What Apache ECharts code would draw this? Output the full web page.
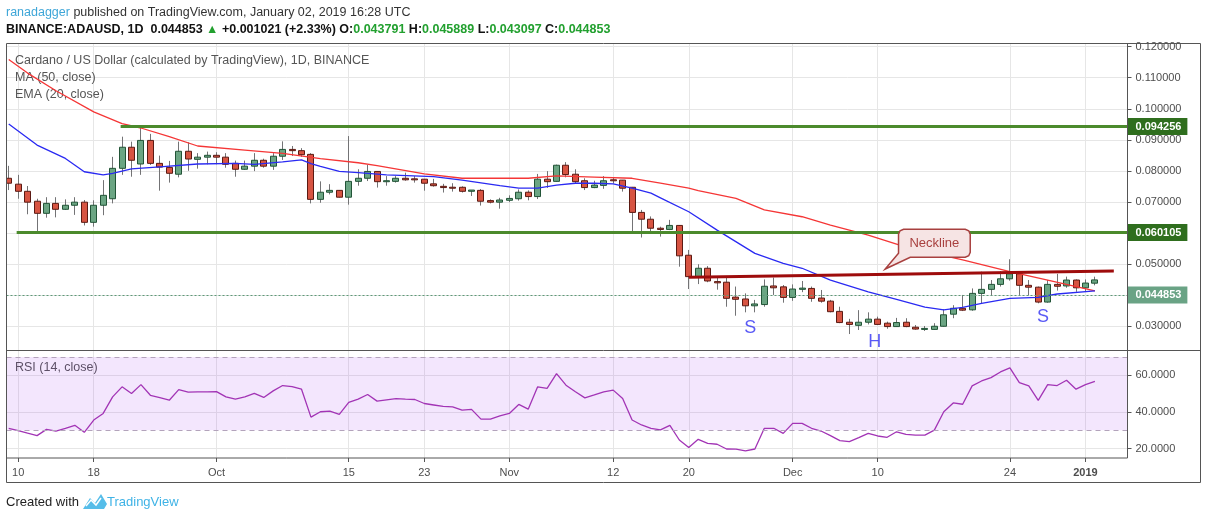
<!DOCTYPE html>
<html><head><meta charset="utf-8">
<script src="https://cdn.jsdelivr.net/npm/echarts@6/dist/echarts.min.js"></script>
<style>html,body{margin:0;padding:0;background:#fff}#c{width:1207px;height:520px}</style>
</head><body><div id="c"></div>
<script>
const dates = ['2018-09-09','2018-09-10','2018-09-11','2018-09-12','2018-09-13','2018-09-14','2018-09-15','2018-09-16','2018-09-17','2018-09-18',
'2018-09-19','2018-09-20','2018-09-21','2018-09-22','2018-09-23','2018-09-24','2018-09-25','2018-09-26','2018-09-27','2018-09-28',
'2018-09-29','2018-09-30','2018-10-01','2018-10-02','2018-10-03','2018-10-04','2018-10-05','2018-10-06','2018-10-07','2018-10-08',
'2018-10-09','2018-10-10','2018-10-11','2018-10-12','2018-10-13','2018-10-14','2018-10-15','2018-10-16','2018-10-17','2018-10-18',
'2018-10-19','2018-10-20','2018-10-21','2018-10-22','2018-10-23','2018-10-24','2018-10-25','2018-10-26','2018-10-27','2018-10-28',
'2018-10-29','2018-10-30','2018-10-31','2018-11-01','2018-11-02','2018-11-03','2018-11-04','2018-11-05','2018-11-06','2018-11-07',
'2018-11-08','2018-11-09','2018-11-10','2018-11-11','2018-11-12','2018-11-13','2018-11-14','2018-11-15','2018-11-16','2018-11-17',
'2018-11-18','2018-11-19','2018-11-20','2018-11-21','2018-11-22','2018-11-23','2018-11-24','2018-11-25','2018-11-26','2018-11-27',
'2018-11-28','2018-11-29','2018-11-30','2018-12-01','2018-12-02','2018-12-03','2018-12-04','2018-12-05','2018-12-06','2018-12-07',
'2018-12-08','2018-12-09','2018-12-10','2018-12-11','2018-12-12','2018-12-13','2018-12-14','2018-12-15','2018-12-16','2018-12-17',
'2018-12-18','2018-12-19','2018-12-20','2018-12-21','2018-12-22','2018-12-23','2018-12-24','2018-12-25','2018-12-26','2018-12-27',
'2018-12-28','2018-12-29','2018-12-30','2018-12-31','2019-01-01','2019-01-02'];

const open = [0.0776,0.0757,0.0734,0.0702,0.0663,0.0695,0.0676,0.0689,0.0699,0.0634,
0.0689,0.0710,0.0808,0.0876,0.0822,0.0898,0.0824,0.0811,0.0789,0.0863,
0.0837,0.0844,0.0850,0.0844,0.0824,0.0805,0.0815,0.0834,0.0815,0.0847,
0.0869,0.0865,0.0853,0.0708,0.0731,0.0737,0.0715,0.0766,0.0776,0.0798,
0.0766,0.0766,0.0776,0.0773,0.0773,0.0758,0.0750,0.0746,0.0747,0.0734,
0.0737,0.0704,0.0699,0.0705,0.0710,0.0731,0.0717,0.0773,0.0766,0.0818,
0.0789,0.0768,0.0746,0.0753,0.0770,0.0770,0.0747,0.0666,0.0644,0.0615,
0.0611,0.0624,0.0528,0.0459,0.0486,0.0443,0.0441,0.0393,0.0387,0.0365,
0.0369,0.0429,0.0426,0.0392,0.0418,0.0421,0.0390,0.0380,0.0347,0.0312,
0.0302,0.0312,0.0322,0.0309,0.0298,0.0312,0.0296,0.0290,0.0289,0.0299,
0.0338,0.0357,0.0352,0.0405,0.0418,0.0434,0.0452,0.0468,0.0431,0.0425,
0.0377,0.0434,0.0429,0.0448,0.0423,0.043791];
const high = [0.0816,0.0787,0.0751,0.0710,0.0715,0.0715,0.0708,0.0715,0.0706,0.0705,
0.0770,0.0845,0.0910,0.0894,0.0942,0.0919,0.0849,0.0832,0.0894,0.0892,
0.0857,0.0862,0.0860,0.0857,0.0833,0.0833,0.0857,0.0839,0.0857,0.0895,
0.0880,0.0873,0.0857,0.0766,0.0757,0.0738,0.0912,0.0805,0.0819,0.0799,
0.0783,0.0783,0.0794,0.0783,0.0774,0.0774,0.0758,0.0760,0.0750,0.0738,
0.0741,0.0708,0.0713,0.0721,0.0740,0.0737,0.0790,0.0799,0.0820,0.0828,
0.0805,0.0776,0.0768,0.0783,0.0780,0.0770,0.0748,0.0674,0.0653,0.0620,
0.0642,0.0625,0.0545,0.0499,0.0493,0.0459,0.0456,0.0427,0.0405,0.0384,
0.0450,0.0456,0.0432,0.0434,0.0445,0.0427,0.0416,0.0384,0.0362,0.0323,
0.0351,0.0344,0.0330,0.0314,0.0326,0.0325,0.0303,0.0300,0.0309,0.0354,
0.0367,0.0400,0.0421,0.0475,0.0448,0.0477,0.0515,0.0470,0.0448,0.0427,
0.0448,0.0468,0.0459,0.0450,0.0450,0.045889];
const low = [0.0738,0.0710,0.0660,0.0604,0.0649,0.0650,0.0674,0.0658,0.0624,0.0620,
0.0657,0.0695,0.0787,0.0781,0.0787,0.0819,0.0736,0.0762,0.0779,0.0800,
0.0807,0.0821,0.0821,0.0810,0.0781,0.0803,0.0799,0.0810,0.0803,0.0835,
0.0848,0.0845,0.0695,0.0697,0.0724,0.0714,0.0691,0.0752,0.0767,0.0746,
0.0752,0.0762,0.0768,0.0762,0.0736,0.0749,0.0730,0.0733,0.0730,0.0719,
0.0688,0.0695,0.0678,0.0699,0.0704,0.0705,0.0709,0.0745,0.0765,0.0779,
0.0760,0.0738,0.0744,0.0742,0.0759,0.0733,0.0599,0.0585,0.0601,0.0588,
0.0609,0.0491,0.0419,0.0435,0.0441,0.0417,0.0362,0.0333,0.0344,0.0344,
0.0362,0.0400,0.0375,0.0381,0.0409,0.0378,0.0375,0.0344,0.0309,0.0274,
0.0287,0.0305,0.0303,0.0291,0.0298,0.0296,0.0288,0.0284,0.0288,0.0298,
0.0325,0.0348,0.0349,0.0373,0.0397,0.0427,0.0446,0.0400,0.0398,0.0373,
0.0375,0.0414,0.0423,0.0410,0.0410,0.043097];
const close = [0.0760,0.0734,0.0699,0.0663,0.0695,0.0676,0.0689,0.0699,0.0634,0.0689,
0.0721,0.0808,0.0876,0.0834,0.0898,0.0824,0.0812,0.0792,0.0863,0.0838,
0.0844,0.0850,0.0844,0.0821,0.0805,0.0815,0.0834,0.0815,0.0847,0.0869,
0.0865,0.0852,0.0708,0.0731,0.0737,0.0715,0.0766,0.0776,0.0798,0.0765,
0.0767,0.0776,0.0771,0.0772,0.0760,0.0752,0.0746,0.0745,0.0734,0.0738,
0.0702,0.0699,0.0706,0.0711,0.0731,0.0717,0.0773,0.0765,0.0818,0.0788,
0.0765,0.0746,0.0754,0.0768,0.0769,0.0744,0.0666,0.0644,0.0615,0.0611,
0.0624,0.0526,0.0459,0.0486,0.0445,0.0439,0.0389,0.0386,0.0365,0.0371,
0.0428,0.0423,0.0392,0.0419,0.0422,0.0389,0.0380,0.0346,0.0311,0.0305,
0.0312,0.0322,0.0305,0.0298,0.0311,0.0298,0.0290,0.0291,0.0299,0.0336,
0.0357,0.0351,0.0405,0.0418,0.0434,0.0452,0.0468,0.0431,0.0425,0.0377,
0.0434,0.0428,0.0448,0.0423,0.043832,0.044853];

// MA(50) and EMA(20) at the listed day indices
const maDay = [0,2,5,9,12,14,17,20,25,29,33,37,39,44,48,52,55,58,62,66,69,72,73,77,80,84,87,91,95,101,106,110,115];
const maVal = [0.1159,0.1115,0.1058,0.0990,0.0952,0.0938,0.0910,0.0880,0.0867,0.0856,0.0839,0.0826,0.0817,0.0790,0.0776,0.0776,0.0776,0.0784,0.0780,0.0776,0.0760,0.0744,0.0736,0.0711,0.0674,0.0652,0.0625,0.0593,0.0554,0.0513,0.0475,0.0448,0.0413];
const emaDay = [0,3,6,8,10,11,13,16,20,24,26,29,31,32,33,35,37,40,45,48,52,54,56,58,60,62,64,66,68,69,72,75,79,82,84,87,91,94,97,99,101,103,106,109,111,115];
const emaVal = [0.0951,0.0883,0.0840,0.0797,0.0787,0.0792,0.0806,0.0813,0.0822,0.0824,0.0821,0.0829,0.0835,0.0823,0.0814,0.0798,0.0794,0.0787,0.0781,0.0770,0.0752,0.0744,0.0744,0.0754,0.0760,0.0760,0.0758,0.0744,0.0728,0.0713,0.0668,0.0609,0.0534,0.0502,0.0486,0.0448,0.0410,0.0386,0.0361,0.0352,0.0360,0.0373,0.0389,0.0392,0.0403,0.0413];

const rsi = [31.1,29.8,28.4,27.1,30.5,29.6,31.0,32.7,28.9,35.6,
39.2,48.2,53.7,50.1,54.9,49.1,47.8,46.4,52.2,50.8,
50.9,51.0,51.1,48.2,47.0,48.2,50.1,47.9,51.5,54.4,
53.8,52.4,37.2,40.1,40.5,38.7,45.2,47.0,49.5,45.9,
46.6,47.3,47.0,46.8,44.6,43.8,43.0,42.8,41.0,41.4,
36.1,36.1,37.9,39.2,44.1,41.5,53.7,52.8,60.9,54.6,
51.0,47.7,49.3,51.0,51.9,47.3,35.6,32.9,31.1,30.2,
32.7,24.7,20.6,25.1,22.9,22.4,19.8,19.7,18.8,19.8,
31.1,31.1,28.3,33.8,33.8,31.1,29.6,27.1,24.4,23.8,
26.0,28.3,26.9,26.2,29.2,27.8,27.4,27.4,30.1,40.1,
44.9,44.2,54.2,56.9,58.7,61.8,64.0,56.0,54.2,46.3,
54.9,54.4,57.3,52.4,54.9,56.7];

const tickDates = ['2018-09-10','2018-09-18','2018-10-01','2018-10-15','2018-10-23','2018-11-01','2018-11-12','2018-11-20','2018-12-01','2018-12-10','2018-12-24','2019-01-01'];
const tickLabels = ['10','18','Oct','15','23','Nov','12','20','Dec','10','24','2019'];
const priceTicks = [0.03,0.04,0.05,0.06,0.07,0.08,0.09,0.10,0.11,0.12];
const rsiTicks = [20,40,60];

const levelTop = 0.094256, levelMid = 0.060105, lastPrice = 0.044853;
const necklineStart = ['2018-11-20', 0.0457], necklineEnd = [117, 0.0477];
const hsLabels = [{name:'S', day:78.5, price:0.02935},{name:'H', day:91.7, price:0.02483},{name:'S', day:109.5, price:0.03289}];
const calloutTip = [92.8, 0.04836];

const tickIdx = tickDates.map(d => dates.indexOf(d));
const X_MIN = -0.235, X_MAX = 118.45;
const FONT = 'Liberation Sans';

const candleData = dates.map((d, i) => [i, open[i], close[i], low[i], high[i]]);
const maData = maDay.map((d, k) => [d, maVal[k]]);
const emaData = emaDay.map((d, k) => [d, emaVal[k]]);
const rsiData = rsi.map((v, i) => [i, v]);

function renderCandle(params, api) {
  const i = api.value(0), o = api.value(1), c = api.value(2), l = api.value(3), h = api.value(4);
  const po = api.coord([i, o]), pc = api.coord([i, c]), pl = api.coord([i, l]), ph = api.coord([i, h]);
  const x = Math.round(po[0] - 0.5) + 0.5;
  const up = c >= o;
  let top = Math.min(po[1], pc[1]), bot = Math.max(po[1], pc[1]);
  if (bot - top < 1) { const m = (top + bot) / 2; top = m - 0.5; bot = m + 0.5; }
  return {type: 'group', children: [
    {type: 'line', shape: {x1: x, y1: ph[1], x2: x, y2: pl[1]}, style: {stroke: '#737375', lineWidth: 1}},
    {type: 'rect', shape: {x: x - 3, y: top, width: 6, height: bot - top},
     style: {fill: up ? '#6ba583' : '#d75442', stroke: up ? '#225437' : '#5b1a13', lineWidth: 1}}
  ]};
}

function renderCallout(params, api) {
  const p = api.coord([api.value(0), api.value(1)]);
  const tx = p[0], ty = p[1];
  const L = tx + 13.3, R = tx + 85, T = ty - 39.7, B = ty - 11.7, r = 5;
  const pts = [[tx, ty], [L, ty - 15.7], [L, T + r], [L + 1.5, T + 1.5], [L + r, T], [R - r, T], [R - 1.5, T + 1.5], [R, T + r],
               [R, B - r], [R - 1.5, B - 1.5], [R - r, B], [tx + 25, B]];
  return {type: 'group', children: [
    {type: 'polygon', shape: {points: pts}, style: {fill: '#f6e4e4', stroke: '#a8403f', lineWidth: 1.5}},
    {type: 'text', style: {text: 'Neckline', x: (L + R) / 2, y: (T + B) / 2, align: 'center', verticalAlign: 'middle',
      fill: '#a8403f', fontSize: 13, fontFamily: FONT}}
  ]};
}

function levelLabel(text, bg) {
  return {show: true, position: 'end', distance: 0, formatter: text, backgroundColor: bg, color: '#fff',
    fontWeight: 'bold', fontSize: 11, fontFamily: FONT, padding: [3, 6, 2, 8], lineHeight: 12};
}

const chart = echarts.init(document.getElementById('c'), null, {renderer: 'canvas'});
chart.setOption({
  animation: false,
  backgroundColor: '#ffffff',
  grid: [
    {left: 6.5, top: 43.5, width: 1121, height: 307, outerBoundsMode: 'none', containLabel: false},
    {left: 6.5, top: 350.5, width: 1121, height: 107.5, outerBoundsMode: 'none', containLabel: false}
  ],
  xAxis: [
    {type: 'value', gridIndex: 0, min: X_MIN, max: X_MAX, axisLine: {show: false, onZero: false},
     axisTick: {show: false, customValues: tickIdx}, axisLabel: {show: false},
     splitLine: {show: true, lineStyle: {color: '#e6e6e6', width: 1}}},
    {type: 'value', gridIndex: 1, min: X_MIN, max: X_MAX, position: 'bottom', axisLine: {show: false, onZero: false},
     axisTick: {show: true, customValues: tickIdx, length: 4, lineStyle: {color: '#555'}},
     axisLabel: {show: true, customValues: tickIdx, margin: 9, color: '#4d4d4d', fontSize: 11, fontFamily: FONT,
       formatter: v => { const t = tickLabels[tickIdx.indexOf(v)]; return t === '2019' ? '{b|2019}' : t; },
       rich: {b: {fontWeight: 'bold', fontSize: 11, fontFamily: FONT, color: '#4d4d4d'}}},
     splitLine: {show: true, lineStyle: {color: '#e6e6e6', width: 1}}}
  ],
  yAxis: [
    {type: 'value', gridIndex: 0, position: 'right', min: 0.022095, max: 0.121031,
     axisLine: {show: false, onZero: false},
     axisTick: {show: true, length: 4, customValues: priceTicks, lineStyle: {color: '#555'}},
     axisLabel: {customValues: priceTicks, formatter: v => v.toFixed(6), color: '#4d4d4d', fontSize: 11, fontFamily: FONT, margin: 8},
     splitLine: {show: true, lineStyle: {color: '#e6e6e6', width: 1}}},
    {type: 'value', gridIndex: 1, position: 'right', min: 14.9, max: 73.5,
     axisLine: {show: false, onZero: false},
     axisTick: {show: true, length: 4, customValues: rsiTicks, lineStyle: {color: '#555'}},
     axisLabel: {customValues: rsiTicks, formatter: v => v.toFixed(4), color: '#4d4d4d', fontSize: 11, fontFamily: FONT, margin: 8},
     splitLine: {show: true, lineStyle: {color: '#e6e6e6', width: 1}}}
  ],
  series: [
    {type: 'custom', name: 'ADAUSD', xAxisIndex: 0, yAxisIndex: 0, data: candleData, renderItem: renderCandle,
     encode: {x: 0, y: [1, 2, 3, 4]}, clip: true, z: 3},
    {type: 'line', name: 'MA (50, close)', xAxisIndex: 0, yAxisIndex: 0, data: maData, symbol: 'none',
     lineStyle: {color: '#f53636', width: 1.3}, z: 4, clip: true,
     markLine: {symbol: ['none', 'none'], silent: true, animation: false,
       data: [
         [{coord: [11.85, levelTop], lineStyle: {color: '#4b8a2c', width: 3, type: 'solid'}, label: levelLabel('0.094256', '#2f6e1e')},
          {coord: [X_MAX, levelTop]}],
         [{coord: [0.84, levelMid], lineStyle: {color: '#4b8a2c', width: 3, type: 'solid'}, label: levelLabel('0.060105', '#2f6e1e')},
          {coord: [X_MAX, levelMid]}]
       ]}},
    {type: 'line', name: 'EMA (20, close)', xAxisIndex: 0, yAxisIndex: 0, data: emaData, symbol: 'none',
     lineStyle: {color: '#2a2af2', width: 1.3}, z: 4, clip: true,
     markLine: {symbol: ['none', 'none'], silent: true, animation: false,
       data: [
         {yAxis: lastPrice, lineStyle: {color: '#5e9a78', width: 1, type: [2, 2]}, label: levelLabel('0.044853', '#6aa385')},
         [{coord: [dates.indexOf(necklineStart[0]), necklineStart[1]], lineStyle: {color: '#9e0c0c', width: 3, type: 'solid'}, label: {show: false}},
          {coord: necklineEnd, label: {show: false}}]
       ]}},
    {type: 'scatter', xAxisIndex: 0, yAxisIndex: 0, symbolSize: 1, itemStyle: {color: 'transparent'}, z: 5,
     data: hsLabels.map(h => ({name: h.name, value: [h.day, h.price]})),
     label: {show: true, position: 'inside', formatter: '{b}', color: '#2f2ff2', fontSize: 18, fontFamily: FONT}},
    {type: 'custom', xAxisIndex: 0, yAxisIndex: 0, data: [calloutTip], renderItem: renderCallout, clip: false, z: 6},
    {type: 'line', name: 'RSI (14, close)', xAxisIndex: 1, yAxisIndex: 1, data: rsiData, symbol: 'none',
     lineStyle: {color: '#a234b5', width: 1.3}, z: 4,
     markArea: {silent: true, itemStyle: {color: 'rgba(155,47,238,0.12)'}, data: [[{yAxis: 70}, {yAxis: 30}]]},
     markLine: {symbol: ['none', 'none'], silent: true, label: {show: false},
       lineStyle: {color: '#b3a3bb', type: [5, 4], width: 1}, data: [{yAxis: 70}, {yAxis: 30}]}}
  ],
  graphic: [
    {type: 'text', x: 6, y: 13, z: 1, style: {text: '{a|ranadagger}{b| published on TradingView.com, January 02, 2019 16:28 UTC}',
      verticalAlign: 'middle', fontSize: 12.5, fontFamily: FONT,
      rich: {a: {fill: '#3ea6d8', fontSize: 12.5, fontFamily: FONT}, b: {fill: '#333', fontSize: 12.5, fontFamily: FONT}}}},
    {type: 'text', x: 6, y: 30, z: 1, style: {
      text: '{b|BINANCE:ADAUSD, 1D  0.044853 }{g|▲}{b| +0.001021 (+2.33%) O:}{g|0.043791}{b| H:}{g|0.045889}{b| L:}{g|0.043097}{b| C:}{g|0.044853}',
      verticalAlign: 'middle', fontSize: 12.5, fontFamily: FONT,
      rich: {b: {fill: '#111', fontSize: 12.5, fontWeight: 'bold', fontFamily: FONT}, g: {fill: '#22a02f', fontSize: 12.5, fontWeight: 'bold', fontFamily: FONT}}}},
    {type: 'text', x: 15, y: 61, z: 1, style: {text: 'Cardano / US Dollar (calculated by TradingView), 1D, BINANCE', verticalAlign: 'middle', fill: '#555', fontSize: 12.5, fontFamily: FONT}},
    {type: 'text', x: 15, y: 78, z: 1, style: {text: 'MA (50, close)', verticalAlign: 'middle', fill: '#555', fontSize: 12.5, fontFamily: FONT}},
    {type: 'text', x: 15, y: 95, z: 1, style: {text: 'EMA (20, close)', verticalAlign: 'middle', fill: '#555', fontSize: 12.5, fontFamily: FONT}},
    {type: 'text', x: 15, y: 368, z: 1, style: {text: 'RSI (14, close)', verticalAlign: 'middle', fill: '#555', fontSize: 12.5, fontFamily: FONT}},
    {type: 'rect', z: 100, shape: {x: 6.5, y: 43.5, width: 1194, height: 439}, style: {fill: 'none', stroke: '#555', lineWidth: 1}},
    {type: 'line', z: 100, shape: {x1: 1127.5, y1: 43.5, x2: 1127.5, y2: 458}, style: {stroke: '#555', lineWidth: 1}},
    {type: 'line', z: 100, shape: {x1: 6.5, y1: 350.5, x2: 1200.5, y2: 350.5}, style: {stroke: '#555', lineWidth: 1}},
    {type: 'line', z: 100, shape: {x1: 6.5, y1: 458, x2: 1127.5, y2: 458}, style: {stroke: '#555', lineWidth: 1}},
    {type: 'text', x: 6, y: 502, z: 1, style: {text: 'Created with', verticalAlign: 'middle', fill: '#222', fontSize: 13, fontFamily: FONT}},
    {type: 'polygon', z: 1, shape: {points: [[83,509],[90,498],[95,503],[101,494],[107,504],[104,509]]}, style: {fill: '#56bde9'}},
    {type: 'polyline', z: 1, shape: {points: [[86,506],[91,500],[96,505],[101,498]]}, style: {fill: 'none', stroke: '#ffffff', lineWidth: 1.5}},
    {type: 'text', x: 107, y: 502, z: 1, style: {text: 'TradingView', verticalAlign: 'middle', fill: '#3fb3e6', fontSize: 13, fontFamily: FONT}}
  ]
});
</script></body></html>
